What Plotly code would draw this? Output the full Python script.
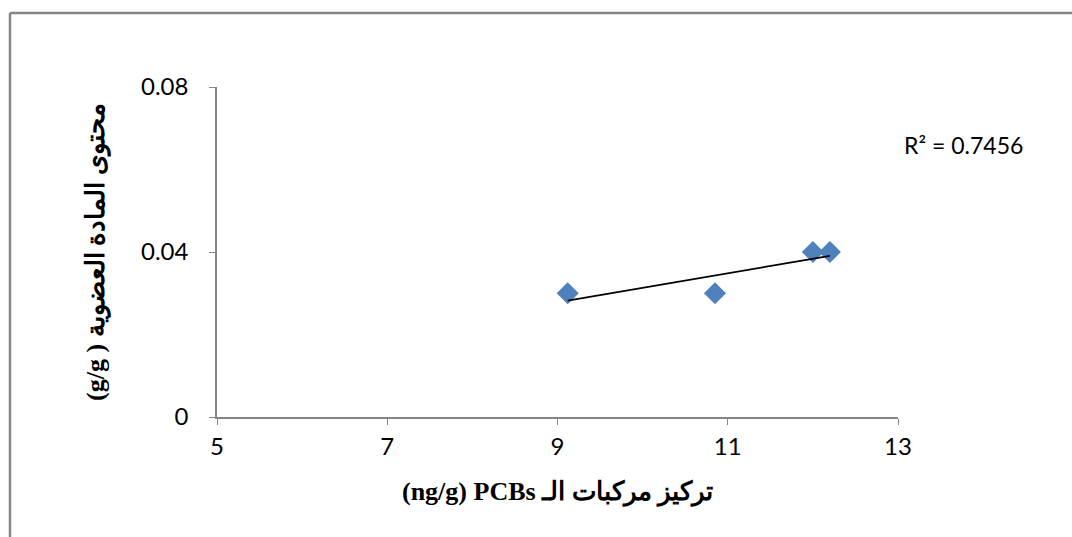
import numpy as np
import plotly.graph_objects as go

# Data
pcb_conc = [9.12, 10.85, 12.0, 12.2]
organic_matter = [0.03, 0.03, 0.04, 0.04]
x_ticks = [5, 7, 9, 11, 13]
y_ticks = [0, 0.04, 0.08]
y_tick_labels = ["0", "0.04", "0.08"]
r2_label = "R² = 0.7456"
x_title = "(ng/g) PCBs تركيز مركبات الـ"
y_title = "(g/g ) محتوى المادة العضوية"

# Linear trendline from the data
xa = np.array(pcb_conc)
ya = np.array(organic_matter)
slope, intercept = np.polyfit(xa, ya, 1)
trend_x = [xa.min(), xa.max()]
trend_y = [slope * v + intercept for v in trend_x]

L, R, T, B = 217, 1072 - 898, 87, 537 - 417
W, H = 1072 - L - R, 537 - T - B

def px(xp):
    return (xp - L) / W

def py(yp):
    return (537 - B - yp) / H

fig = go.Figure()
fig.add_trace(go.Scatter(
    x=pcb_conc, y=organic_matter, mode="markers",
    marker=dict(symbol="diamond", size=17, color="#4F81BD"),
    showlegend=False, hoverinfo="x+y"))
fig.add_trace(go.Scatter(
    x=trend_x, y=trend_y, mode="lines",
    line=dict(color="black", width=1.8),
    showlegend=False, hoverinfo="skip"))

axis_font = dict(family="Lato, 'Open Sans', sans-serif", size=24, color="black")
fig.update_xaxes(range=[5, 13], tickvals=x_ticks, ticks="outside", ticklen=6,
                 tickcolor="#868686", showline=True, linecolor="#868686", linewidth=1.5,
                 showgrid=False, zeroline=False, tickfont=axis_font, fixedrange=True,
                 ticklabelstandoff=1)
fig.update_yaxes(range=[0, 0.08], tickvals=y_ticks, ticktext=y_tick_labels,
                 ticks="outside", ticklen=6, tickcolor="#868686", showline=True,
                 linecolor="#868686", linewidth=1.5, showgrid=False, zeroline=False,
                 tickfont=axis_font, fixedrange=True, ticklabelstandoff=16)

border = dict(color="#868686", width=2.5)
title_font = dict(family="'Liberation Serif', 'Times New Roman', serif", size=26, color="black")
fig.update_layout(
    width=1072, height=537,
    margin=dict(l=L, r=R, t=T, b=B),
    paper_bgcolor="white", plot_bgcolor="white",
    shapes=[
        dict(type="line", xref="paper", yref="paper",
             x0=px(10), x1=px(1200), y0=py(13), y1=py(13), line=border, layer="below"),
        dict(type="line", xref="paper", yref="paper",
             x0=px(10), x1=px(10), y0=py(13), y1=py(700), line=border, layer="below"),
    ],
    annotations=[
        dict(text=r2_label, xref="paper", yref="paper", x=px(902), y=py(145),
             xanchor="left", yanchor="middle", showarrow=False,
             font=dict(family="Lato, 'Open Sans', sans-serif", size=23, color="black")),
        dict(text="<b>" + x_title + "</b>", xref="paper", yref="paper",
             x=px(557), y=py(492), xanchor="center", yanchor="middle",
             showarrow=False, font=title_font),
        dict(text="<b>" + y_title + "</b>", xref="paper", yref="paper",
             x=px(96), y=py(252), xanchor="center", yanchor="middle",
             textangle=-90, showarrow=False, font=title_font),
    ],
)

fig.write_html("out.html", config={"displayModeBar": False},
               post_script="document.body.style.margin='0';document.body.style.overflow='hidden';")
